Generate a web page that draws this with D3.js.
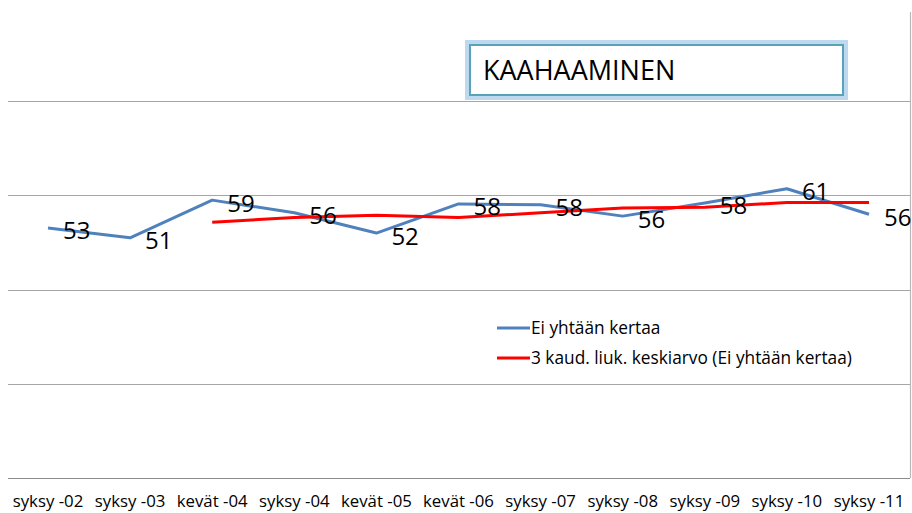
<!DOCTYPE html>
<html>
<head>
<meta charset="utf-8">
<script src="https://cdn.jsdelivr.net/npm/d3@7"></script>
<style>
  html, body { margin: 0; padding: 0; background: #fff; }
  svg { display: block; }
  text { font-family: "Open Sans", "Liberation Sans", sans-serif; fill: #000; }
</style>
</head>
<body>
<svg id="chart" width="912" height="513"></svg>
<script>
const categories = ["syksy -02", "syksy -03", "kevät -04", "syksy -04", "kevät -05", "kevät -06",
                    "syksy -07", "syksy -08", "syksy -09", "syksy -10", "syksy -11"];
const seriesValues = [53.1, 51.0, 59.0, 56.3, 52.0, 58.2, 58.0, 55.6, 58.4, 61.4, 56.0];
const movingAvgCategories = categories.slice(2);
const movingAvgValues = [54.3, 55.3, 55.8, 55.3, 56.3, 57.3, 57.5, 58.5, 58.5];
const yTicks = [20, 40, 60, 80];
const seriesName = "Ei yhtään kertaa";
const movingAvgName = "3 kaud. liuk. keskiarvo (Ei yhtään kertaa)";
const chartTitle = "KAAHAAMINEN";

const svg = d3.select("#chart");

const x = d3.scalePoint().domain(categories).range([48, 869]);
const y = d3.scaleLinear().domain([0, 100]).range([478, 7]);

// gridlines
svg.append("g").selectAll("line").data(yTicks).join("line")
  .attr("x1", 8).attr("x2", 910)
  .attr("y1", d => Math.round(y(d)) + 0.5).attr("y2", d => Math.round(y(d)) + 0.5)
  .attr("stroke", "#a6a6a6").attr("stroke-width", 1);

// baseline
svg.append("line")
  .attr("x1", 8).attr("x2", 910)
  .attr("y1", Math.round(y(0)) + 0.5).attr("y2", Math.round(y(0)) + 0.5)
  .attr("stroke", "#8c8c8c").attr("stroke-width", 1);

// right border
svg.append("line")
  .attr("x1", 910.5).attr("x2", 910.5).attr("y1", 12).attr("y2", y(0))
  .attr("stroke", "#b8b8b8").attr("stroke-width", 1.2);

// x axis labels
const xl = svg.append("g");
xl.selectAll("text").data(categories).join("text")
  .attr("x", d => x(d))
  .attr("y", 507)
  .attr("text-anchor", "middle")
  .style("font-size", "16.8px")
  .text(d => d)
  .each(function(d) {
    const w = this.getComputedTextLength();
    const cx = Math.max(x(d), 3 + w / 2);
    d3.select(this).attr("x", cx);
  });

// lines
const line = d3.line().x(d => x(d[0])).y(d => y(d[1]));
svg.append("path")
  .datum(categories.map((c, i) => [c, seriesValues[i]]))
  .attr("d", line)
  .attr("fill", "none").attr("stroke", "#4f81bd").attr("stroke-width", 3)
  .attr("stroke-linejoin", "round");

svg.append("path")
  .datum(movingAvgCategories.map((c, i) => [c, movingAvgValues[i]]))
  .attr("d", line)
  .attr("fill", "none").attr("stroke", "#ff0000").attr("stroke-width", 3)
  .attr("stroke-linejoin", "round");

// data labels
svg.append("g").selectAll("text").data(categories).join("text")
  .attr("x", d => x(d) + 15)
  .attr("y", (d, i) => y(seriesValues[i]) + 11.5)
  .style("font-size", "24px")
  .text((d, i) => d3.format(".0f")(seriesValues[i]));

// legend
const legend = svg.append("g");
const legendItems = [[seriesName, "#4f81bd", 328, 334], [movingAvgName, "#ff0000", 358, 364]];
legendItems.forEach(([name, color, ly, ty]) => {
  legend.append("line").attr("x1", 497).attr("x2", 530).attr("y1", ly).attr("y2", ly)
    .attr("stroke", color).attr("stroke-width", 3);
  legend.append("text").attr("x", 531).attr("y", ty)
    .style("font-size", "17.3px").text(name);
});

// title box
const tb = svg.append("g");
tb.append("rect").attr("x", 469).attr("y", 44).attr("width", 375).attr("height", 52)
  .attr("fill", "none").attr("stroke", "#bcd9f0").attr("stroke-width", 8);
tb.append("rect").attr("x", 470).attr("y", 45).attr("width", 373).attr("height", 50)
  .attr("fill", "#fff").attr("stroke", "#5aa2b8").attr("stroke-width", 2);
tb.append("text").attr("x", 483).attr("y", 80)
  .style("font-size", "27px").text(chartTitle);
</script>
</body>
</html>
